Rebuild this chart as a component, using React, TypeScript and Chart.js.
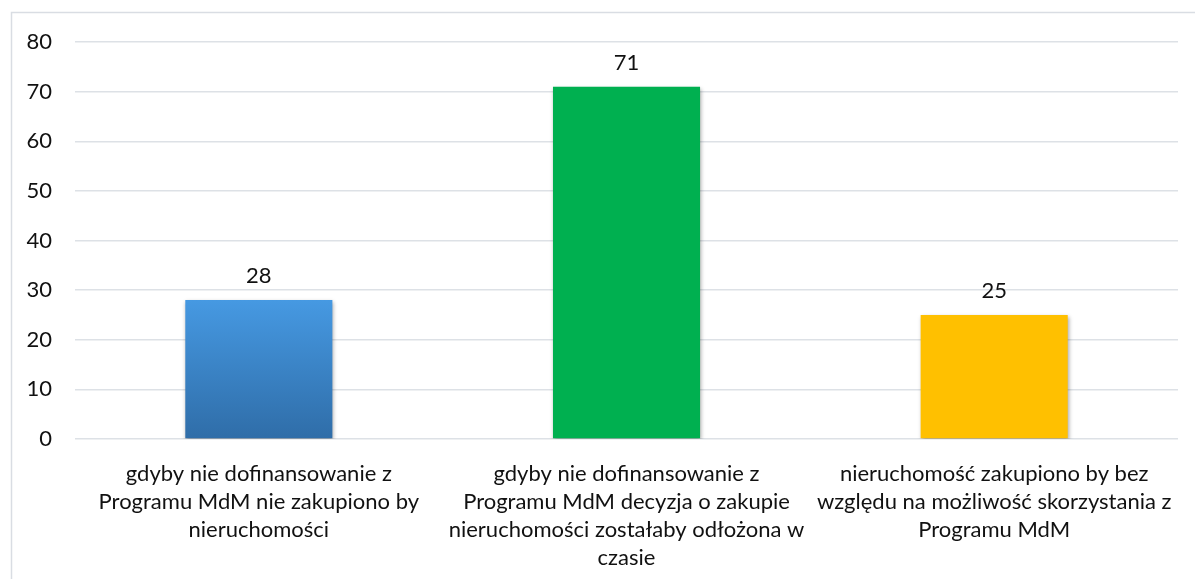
import React, { useEffect, useRef } from "react";
import { Chart, registerables } from "chart.js";

Chart.register(...registerables);

const categories: string[][] = [
  ["gdyby nie dofinansowanie z", "Programu MdM nie zakupiono by", "nieruchomości"],
  ["gdyby nie dofinansowanie z", "Programu MdM decyzja o zakupie", "nieruchomości zostałaby odłożona w", "czasie"],
  ["nieruchomość zakupiono by bez", "względu na możliwość skorzystania z", "Programu MdM"],
];
const values: number[] = [28, 71, 25];
const solidColors: string[] = ["#4699E2", "#00B050", "#FFC000"];

const FONT = "Lato, 'Open Sans', sans-serif";

// thin frame around the whole chart box
const framePlugin = {
  id: "frame",
  beforeDraw(chart: any) {
    const ctx = chart.ctx;
    ctx.save();
    ctx.strokeStyle = "#d9dde3";
    ctx.lineWidth = 1.5;
    ctx.beginPath();
    ctx.moveTo(chart.width + 5, 12.5);
    ctx.lineTo(11.5, 12.5);
    ctx.lineTo(11.5, chart.height + 5);
    ctx.stroke();
    ctx.restore();
  },
};

// soft drop shadow under the bars
const shadowPlugin = {
  id: "barShadow",
  beforeDatasetsDraw(chart: any) {
    const ctx = chart.ctx;
    ctx.save();
    ctx.shadowColor = "rgba(0,0,0,0.35)";
    ctx.shadowBlur = 4;
    ctx.shadowOffsetX = 1;
    ctx.shadowOffsetY = 2;
  },
  afterDatasetsDraw(chart: any) {
    chart.ctx.restore();
  },
};

// value labels above each bar
const valueLabelPlugin = {
  id: "valueLabels",
  afterDatasetsDraw(chart: any) {
    const ctx = chart.ctx;
    const meta = chart.getDatasetMeta(0);
    ctx.save();
    ctx.font = `22px ${FONT}`;
    ctx.fillStyle = "#111";
    ctx.textAlign = "center";
    ctx.textBaseline = "middle";
    meta.data.forEach((bar: any, i: number) => {
      ctx.fillText(String(chart.data.datasets[0].data[i]), bar.x, bar.y - 24);
    });
    ctx.restore();
  },
};

export default function App() {
  const ref = useRef<HTMLCanvasElement | null>(null);

  useEffect(() => {
    if (!ref.current) return;
    const chart = new Chart(ref.current, {
      type: "bar",
      data: {
        labels: categories,
        datasets: [
          {
            data: values,
            backgroundColor: (c: any) => {
              const i = c.dataIndex;
              if (i !== 0) return solidColors[i];
              const chartRef = c.chart;
              const yScale = chartRef.scales?.y;
              if (!chartRef.chartArea || !yScale) return solidColors[0];
              const top = yScale.getPixelForValue(values[0]);
              const bottom = yScale.getPixelForValue(0);
              if (!isFinite(top) || !isFinite(bottom) || top === bottom) return solidColors[0];
              const g = chartRef.ctx.createLinearGradient(0, top, 0, bottom);
              g.addColorStop(0, "#4699E2");
              g.addColorStop(1, "#2F6DA8");
              return g;
            },
            borderWidth: 0,
            barPercentage: 0.4,
            categoryPercentage: 1,
          },
        ],
      },
      options: {
        responsive: false,
        animation: false,
        layout: { padding: { top: 42, right: 15, left: 0, bottom: 0 } },
        plugins: {
          legend: { display: false },
          tooltip: { enabled: false },
        },
        scales: {
          x: {
            grid: { display: false, drawTicks: false },
            border: { display: false },
            ticks: {
              color: "#111",
              font: { family: FONT, size: 22, lineHeight: "28px" },
              padding: 21,
              maxRotation: 0,
              autoSkip: false,
            },
            afterFit(scale: any) {
              scale.height = 140;
            },
          },
          y: {
            min: 0,
            max: 80,
            grid: { color: "#dde1e6", lineWidth: 1.5, drawTicks: false },
            border: { display: false },
            ticks: {
              stepSize: 10,
              color: "#111",
              font: { family: FONT, size: 22 },
              padding: 23,
            },
            afterFit(scale: any) {
              scale.width = 75;
            },
          },
        },
      },
      plugins: [framePlugin, shadowPlugin, valueLabelPlugin],
    });
    return () => chart.destroy();
  }, []);

  return (
    <div style={{ position: "fixed", left: 0, top: 0, width: 1195, height: 579, background: "#fff" }}>
      <canvas ref={ref} width={1195} height={579} />
    </div>
  );
}
